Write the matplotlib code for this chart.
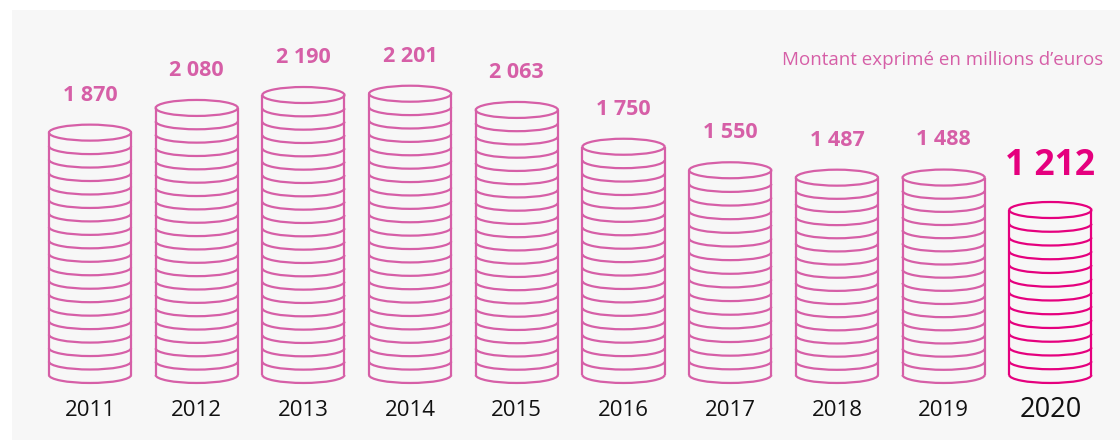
import matplotlib
matplotlib.use("Agg")
import matplotlib.pyplot as plt
from matplotlib.patches import Arc, Ellipse, Rectangle

years = ["2011", "2012", "2013", "2014", "2015", "2016", "2017", "2018", "2019", "2020"]
values = [1870, 2080, 2190, 2201, 2063, 1750, 1550, 1487, 1488, 1212]
value_labels = ["1 870", "2 080", "2 190", "2 201", "2 063", "1 750", "1 550", "1 487", "1 488", "1 212"]
note = "Montant exprimé en millions d\u2019euros"

PINK = "#d65fa7"
MAGENTA = "#e5007e"
BASE = -191          # value at which each stack sits
COIN = 113           # thickness of one coin, in value units
COIN_W = 0.77        # coin width, in category units
COIN_H = 136         # ellipse height, in value units

plt.rcParams["font.family"] = ["Open Sans", "DejaVu Sans"]

fig = plt.figure(figsize=(11.2, 4.4), dpi=100)
fig.patch.set_facecolor("white")
fig.patches.append(Rectangle((12 / 1120, 0), 1, 1 - 10 / 440, transform=fig.transFigure,
                             facecolor="#f7f7f7", edgecolor="none", zorder=-10))

ax = fig.add_axes([0, 0, 1, 1])
ax.set_facecolor("none")
ax.set_xlim(-0.8435, 9.653)
ax.set_ylim(-744, 2998)
ax.axis("off")

n = len(years)
for i, (yr, v, lab) in enumerate(zip(years, values, value_labels)):
    last = i == n - 1
    col = MAGENTA if last else PINK
    lw = 1.6
    ncoins = max(1, round((v - BASE) / COIN))
    step = (v - BASE) / ncoins
    # top face of the stack
    ax.add_patch(Ellipse((i, v), COIN_W, COIN_H, facecolor="none", edgecolor=col, lw=lw))
    # lower rim of each coin
    for k in range(1, ncoins + 1):
        y = v - k * step
        ax.add_patch(Arc((i, y), COIN_W, COIN_H, theta1=180, theta2=360, edgecolor=col, lw=lw))
    # sides
    ax.plot([i - COIN_W / 2, i - COIN_W / 2], [BASE, v], color=col, lw=lw, solid_capstyle="butt")
    ax.plot([i + COIN_W / 2, i + COIN_W / 2], [BASE, v], color=col, lw=lw, solid_capstyle="butt")

    if last:
        ax.text(i, v + 370, lab, ha="center", va="center", color=MAGENTA,
                fontsize=25.5, fontweight="bold")
        ax.text(i, -489, yr, ha="center", va="center", color="#111111", fontsize=19.5)
    else:
        ax.text(i, v + 320, lab, ha="center", va="center", color=PINK,
                fontsize=15.5, fontweight="bold")
        ax.text(i, -489, yr, ha="center", va="center", color="#111111", fontsize=16)

fig.text(1103 / 1120, 1 - 60 / 440, note, ha="right", va="center", color=PINK, fontsize=13.5)

fig.savefig("out.png", dpi=100)
